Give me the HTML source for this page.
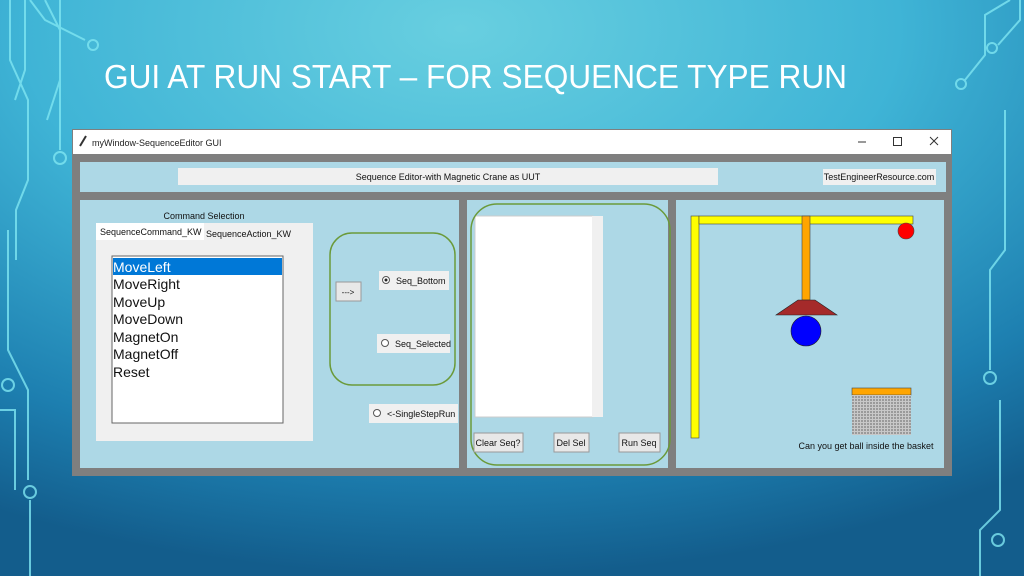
<!DOCTYPE html>
<html><head><meta charset="utf-8"><style>
html,body{margin:0;padding:0;width:1024px;height:576px;overflow:hidden}
svg text{font-family:"Liberation Sans",sans-serif}
</style></head><body>
<svg width="1024" height="576" viewBox="0 0 1024 576" xmlns="http://www.w3.org/2000/svg">
<defs>
<radialGradient id="bg" cx="0.45" cy="0.05" r="0.95">
<stop offset="0" stop-color="#68cfe0"/>
<stop offset="0.45" stop-color="#3fb4d6"/>
<stop offset="0.8" stop-color="#1d7fb0"/>
<stop offset="1" stop-color="#135d8c"/>
</radialGradient>
<pattern id="mesh" width="3" height="3" patternUnits="userSpaceOnUse">
<rect width="3" height="3" fill="#c8c8c8"/><rect width="2" height="2" fill="#9a9a9a"/>
</pattern>
</defs>
<rect width="1024" height="576" fill="url(#bg)"/>
<g stroke="#7fe6f2" stroke-width="2" fill="none" opacity="0.8">
<path d="M10 0V60l18 40V180l-12 30v50"/><path d="M25 0V70l-10 30"/>
<path d="M45 0l15 30v50l-13 40"/><circle cx="93" cy="45" r="5"/><path d="M30 0l15 20 40 20"/>
<path d="M60 0v150"/><circle cx="60" cy="158" r="6"/>
<path d="M8 230v120l20 40v90"/><circle cx="8" cy="385" r="6"/><path d="M30 500v76"/><circle cx="30" cy="492" r="6"/>
<path d="M0 410h15v80"/>
<path d="M1020 0v20l-22 25"/><circle cx="992" cy="48" r="5"/><path d="M1010 0l-25 15v40l-20 25"/>
<circle cx="961" cy="84" r="5"/><path d="M1005 110v140l-15 20v100"/><circle cx="990" cy="378" r="6"/>
<path d="M1000 400v110l-20 20v46"/><circle cx="998" cy="540" r="6"/>
</g>
<text x="104" y="88" font-size="33" fill="#fff" textLength="743" lengthAdjust="spacingAndGlyphs">GUI AT RUN START – FOR SEQUENCE TYPE RUN</text>

<!-- window -->
<rect x="72" y="129" width="880" height="347" fill="#7f7f7f"/>
<rect x="73" y="130" width="878" height="24" fill="#fff"/>
<path d="M80 146l6-10" stroke="#333" stroke-width="2"/>
<text x="92" y="146" font-size="9" fill="#222">myWindow-SequenceEditor GUI</text>
<line x1="858" y1="142" x2="866" y2="142" stroke="#333"/>
<rect x="893.5" y="137.5" width="8" height="8" fill="none" stroke="#333"/>
<path d="M930 137l8 8M938 137l-8 8" stroke="#333"/>

<rect x="80" y="162" width="866" height="30" fill="#add8e6"/>
<rect x="178" y="168" width="540" height="17" fill="#f0f0f0"/>
<text x="448" y="180" font-size="9" fill="#111" text-anchor="middle">Sequence Editor-with Magnetic Crane as UUT</text>
<rect x="823" y="169" width="113" height="16" fill="#f0f0f0"/>
<text x="879" y="180" font-size="9" fill="#111" text-anchor="middle">TestEngineerResource.com</text>

<rect x="80" y="200" width="379" height="268" fill="#add8e6"/>
<rect x="467" y="200" width="201" height="268" fill="#add8e6"/>
<rect x="676" y="200" width="268" height="268" fill="#add8e6"/>

<!-- left panel -->
<text x="204" y="219" font-size="9" fill="#111" text-anchor="middle">Command Selection</text>
<rect x="96" y="223" width="217" height="218" fill="#f0f0f0"/>
<rect x="96" y="223" width="108" height="17" fill="#fff"/>
<text x="100" y="235" font-size="9" fill="#111">SequenceCommand_KW</text>
<text x="206" y="237" font-size="9" fill="#111">SequenceAction_KW</text>
<rect x="112" y="256" width="171" height="167" fill="#fff" stroke="#666"/>
<rect x="113" y="258" width="169" height="17" fill="#0078d7"/>
<g font-size="14" fill="#111">
<text x="113" y="272" fill="#fff">MoveLeft</text>
<text x="113" y="289">MoveRight</text>
<text x="113" y="307">MoveUp</text>
<text x="113" y="324">MoveDown</text>
<text x="113" y="342">MagnetOn</text>
<text x="113" y="359">MagnetOff</text>
<text x="113" y="377">Reset</text>
</g>
<rect x="330" y="233" width="125" height="152" rx="22" fill="none" stroke="#6b9a3a" stroke-width="1.5"/>
<rect x="336" y="282" width="25" height="19" fill="#e8e8e8" stroke="#999"/>
<text x="348" y="295" font-size="8" fill="#111" text-anchor="middle">---&gt;</text>
<rect x="379" y="271" width="70" height="19" fill="#f0f0f0"/>
<circle cx="386" cy="280" r="3.5" fill="#fff" stroke="#555"/><circle cx="386" cy="280" r="1.5" fill="#222"/>
<text x="396" y="284" font-size="9" fill="#111">Seq_Bottom</text>
<rect x="377" y="334" width="73" height="19" fill="#f0f0f0"/>
<circle cx="385" cy="343" r="3.5" fill="#fff" stroke="#555"/>
<text x="395" y="347" font-size="9" fill="#111">Seq_Selected</text>
<rect x="369" y="404" width="89" height="19" fill="#f0f0f0"/>
<circle cx="377" cy="413" r="3.5" fill="#fff" stroke="#555"/>
<text x="387" y="417" font-size="9" fill="#111">&lt;-SingleStepRun</text>

<!-- middle panel -->
<rect x="475" y="216" width="118" height="201" fill="#fff" stroke="#ccc"/>
<rect x="592" y="216" width="11" height="201" fill="#f0f0f0"/>
<rect x="471" y="204" width="199" height="261" rx="26" fill="none" stroke="#6b9a3a" stroke-width="1.5"/>
<rect x="474" y="433" width="49" height="19" fill="#e8e8e8" stroke="#999"/>
<text x="498" y="446" font-size="9" fill="#111" text-anchor="middle">Clear Seq?</text>
<rect x="554" y="433" width="35" height="19" fill="#e8e8e8" stroke="#999"/>
<text x="571" y="446" font-size="9" fill="#111" text-anchor="middle">Del Sel</text>
<rect x="619" y="433" width="41" height="19" fill="#e8e8e8" stroke="#999"/>
<text x="639" y="446" font-size="9" fill="#111" text-anchor="middle">Run Seq</text>

<!-- crane -->
<rect x="691" y="216" width="8" height="222" fill="#ffff00" stroke="#444" stroke-width="0.6"/>
<rect x="699" y="216" width="214" height="8" fill="#ffff00" stroke="#444" stroke-width="0.6"/>
<rect x="802" y="216" width="8" height="84" fill="#ffa500" stroke="#444" stroke-width="0.6"/>
<polygon points="798,300 815,300 837,315 776,315" fill="#a52a2a" stroke="#222" stroke-width="0.6"/>
<circle cx="806" cy="331" r="15" fill="#0000ff" stroke="#222" stroke-width="0.6"/>
<circle cx="906" cy="231" r="8" fill="#ff0000" stroke="#444" stroke-width="0.6"/>
<rect x="852" y="388" width="59" height="7" fill="#ffa500" stroke="#444" stroke-width="0.6"/>
<rect x="852" y="395" width="59" height="40" fill="url(#mesh)"/>
<text x="866" y="449" font-size="9" fill="#111" text-anchor="middle">Can you get ball inside the basket</text>
</svg>
</body></html>
